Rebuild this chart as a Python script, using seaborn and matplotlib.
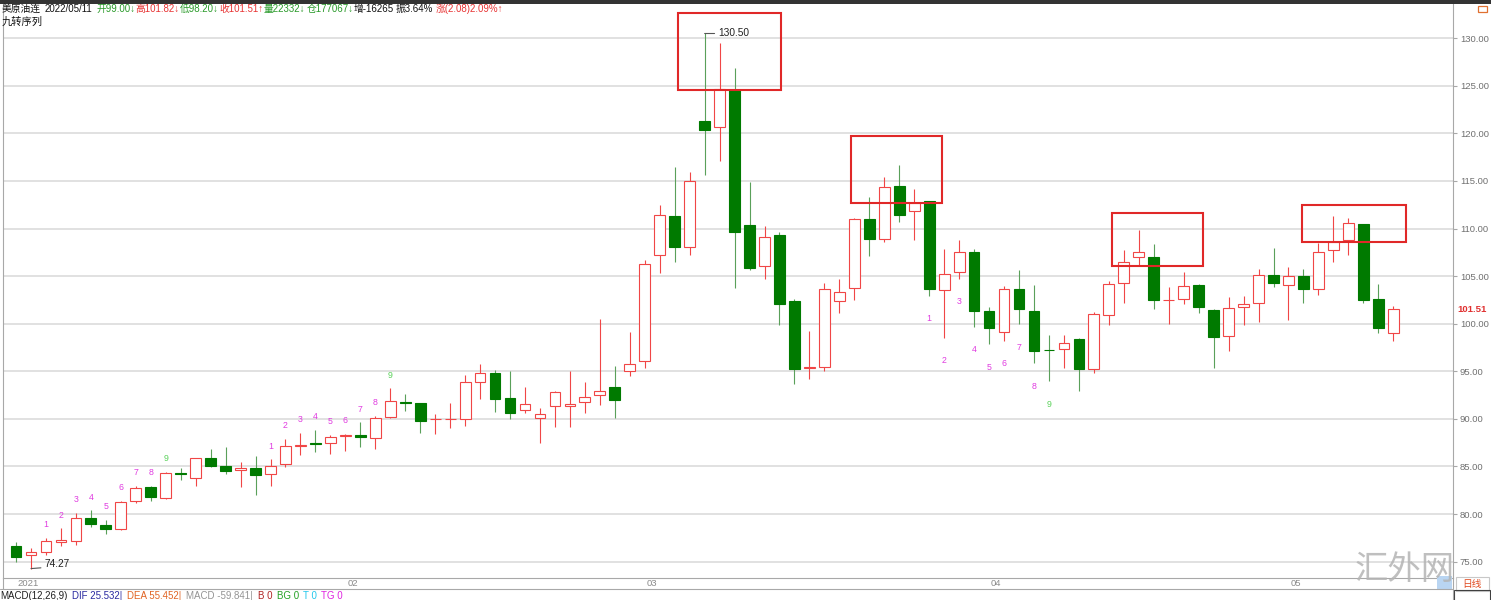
import matplotlib
matplotlib.use("Agg")
import matplotlib.pyplot as plt
import matplotlib.transforms as mtransforms
from matplotlib.patches import Rectangle
from matplotlib.lines import Line2D
import numpy as np
import seaborn as sns

# daily candles, 2021/12/31 .. 2022/05/11
opens = [76.6, 75.7, 76.05, 77.1, 77.2, 79.6, 78.85, 78.4, 81.4, 82.8,
         81.7, 84.25, 83.75, 85.85, 85.05, 84.6, 84.85, 84.2, 85.3, 87.2,
         87.5, 87.5, 88.25, 88.3, 88.0, 90.2, 91.8, 91.65, 89.95, 89.95,
         90.0, 93.9, 94.8, 92.2, 90.9, 90.05, 91.35, 91.35, 91.75, 92.5,
         93.3, 95.05, 96.1, 107.2, 111.35, 108.05, 121.3, 120.7, 124.6, 110.35,
         106.05, 109.35, 102.35, 95.35, 95.5, 102.35, 103.75, 111.0, 108.95, 114.5,
         111.85, 112.9, 103.55, 105.4, 107.5, 101.3, 99.1, 103.7, 101.3, 97.25,
         97.35, 98.4, 95.2, 100.95, 104.3, 107.05, 107.05, 102.45, 102.6, 104.05,
         101.45, 98.75, 101.8, 102.15, 105.15, 104.05, 105.0, 103.6, 107.7, 108.75,
         110.5, 102.65, 99.0]
highs = [77.1, 76.4, 77.5, 78.5, 80.1, 80.4, 79.4, 81.4, 83.0, 82.95,
         84.4, 84.8, 85.9, 86.8, 87.05, 85.45, 86.1, 85.75, 87.9, 88.5,
         88.85, 88.3, 88.45, 89.65, 90.35, 93.2, 92.65, 91.7, 90.55, 91.7,
         94.65, 95.75, 95.15, 95.05, 93.3, 91.1, 92.9, 95.0, 93.9, 100.5,
         95.6, 99.1, 106.75, 112.45, 116.5, 115.95, 130.5, 129.5, 126.85, 114.85,
         110.25, 109.65, 102.6, 99.25, 104.25, 104.7, 111.15, 113.35, 115.45, 116.65,
         114.15, 112.95, 107.9, 108.8, 107.85, 101.8, 104.0, 105.65, 104.05, 98.8,
         98.8, 98.45, 101.25, 104.5, 107.7, 109.8, 108.4, 103.9, 105.4, 104.15,
         101.55, 102.8, 102.95, 105.7, 107.95, 105.95, 105.8, 108.5, 111.35, 111.1,
         110.5, 104.15, 101.82]
lows = [75.0, 74.27, 75.7, 76.6, 76.8, 78.6, 77.9, 78.35, 81.2, 81.4,
        81.6, 83.6, 83.0, 84.95, 84.2, 82.8, 81.95, 83.0, 84.95, 86.2,
        86.5, 86.3, 86.6, 87.05, 86.8, 90.1, 90.8, 88.55, 88.45, 89.05,
        89.25, 92.1, 90.7, 89.95, 90.6, 87.5, 89.1, 89.1, 90.6, 91.5,
        90.1, 94.55, 95.3, 105.3, 106.5, 107.25, 115.65, 117.05, 103.75, 105.6,
        104.65, 99.85, 93.65, 94.2, 95.0, 101.1, 102.5, 107.15, 108.55, 110.7,
        108.8, 102.95, 98.55, 104.7, 99.7, 97.85, 98.2, 99.95, 95.85, 93.95,
        95.4, 92.95, 94.85, 99.85, 102.15, 106.15, 101.55, 99.95, 102.1, 101.1,
        95.3, 97.15, 99.85, 100.2, 103.9, 100.35, 102.15, 103.0, 106.5, 107.25,
        102.2, 99.0, 98.2]
closes = [75.5, 76.05, 77.15, 77.25, 79.6, 79.0, 78.45, 81.3, 82.75, 81.75,
          84.3, 84.2, 85.85, 85.0, 84.55, 84.85, 84.1, 85.05, 87.15, 87.3,
          87.4, 88.1, 88.3, 88.05, 90.1, 91.85, 91.7, 89.75, 90.0, 90.0,
          93.9, 94.8, 92.1, 90.65, 91.6, 90.5, 92.85, 91.55, 92.25, 92.95,
          91.95, 95.75, 106.3, 111.4, 108.1, 115.0, 120.4, 124.7, 109.6, 105.85,
          109.1, 102.1, 95.25, 95.4, 103.7, 103.3, 111.0, 108.9, 114.4, 111.4,
          112.65, 103.65, 105.2, 107.5, 101.3, 99.55, 103.7, 101.5, 97.1, 97.2,
          97.95, 95.2, 101.0, 104.15, 106.5, 107.55, 102.5, 102.5, 103.95, 101.8,
          98.65, 101.7, 102.05, 105.15, 104.25, 105.05, 103.6, 107.55, 108.6, 110.6,
          102.45, 99.5, 101.51]

# x axis: weekly ticks and month labels (candle index)
tick_idx = [0, 6, 11, 16, 22, 26, 31, 36, 41, 42, 46, 51, 56, 61, 65, 71, 75, 80, 85, 90]
month_idx = [0, 22, 42, 65, 85]
month_labels = ["2021", "02", "03", "04", "05"]

# nine-turn sequence marks
td_above_idx = [2, 3, 4, 5, 6, 7, 8, 9, 10, 17, 18, 19, 20, 21, 22, 23, 24, 25]
td_above_num = [1, 2, 3, 4, 5, 6, 7, 8, 9, 1, 2, 3, 4, 5, 6, 7, 8, 9]
td_below_idx = [61, 62, 63, 64, 65, 66, 67, 68, 69]
td_below_num = [1, 2, 3, 4, 5, 6, 7, 8, 9]

# highlighted tops: (x0, x1, y0, y1) in candle index / price
boxes = [(44.2, 51.1, 124.55, 132.7),
         (55.8, 61.85, 112.65, 119.7),
         (73.2, 79.3, 106.05, 111.65),
         (85.9, 92.85, 108.55, 112.45)]

sns.set_style("white")
plt.rcParams['font.family'] = ['Liberation Sans', 'Noto Sans CJK SC', 'DejaVu Sans']

RED = "#f04646"
GREEN = "#007a00"
GREEN_WICK = "#5aa05a"
GRID = "#d9d9d9"
AXC = "#a8a8a8"

fig = plt.figure(figsize=(14.91, 6.0), dpi=100)
fig.patch.set_facecolor("white")
ax = fig.add_axes([3 / 1491, 22 / 600, 1450 / 1491, 574 / 600])

x = np.arange(len(opens))
o = np.array(opens); h = np.array(highs); l = np.array(lows); c = np.array(closes)
up = c >= o
bot = np.minimum(o, c)
hgt = np.maximum(np.abs(c - o), 0.07)

ax.vlines(x[up], l[up], h[up], color=RED, lw=0.8, zorder=2)
ax.vlines(x[~up], l[~up], h[~up], color=GREEN_WICK, lw=0.8, zorder=2)
ax.bar(x[up], hgt[up], bottom=bot[up], width=0.72, facecolor="white",
       edgecolor=RED, lw=0.8, zorder=3)
ax.bar(x[~up], hgt[~up], bottom=bot[~up], width=0.72, facecolor=GREEN,
       edgecolor=GREEN, lw=0.8, zorder=3)

# nine-turn numbers
for i, n in zip(td_above_idx, td_above_num):
    ax.annotate(str(n), (i, highs[i]), xytext=(0, 9.5), textcoords="offset points",
                ha="center", va="center", fontsize=6.3,
                color="#5ad25a" if n == 9 else "#e03ce0", zorder=4)
for i, n in zip(td_below_idx, td_below_num):
    ax.annotate(str(n), (i, lows[i]), xytext=(0, -16.5), textcoords="offset points",
                ha="center", va="center", fontsize=6.3,
                color="#5ad25a" if n == 9 else "#e03ce0", zorder=4)

# max / min labels
imax = int(np.argmax(h)); imin = int(np.argmin(l))
ax.annotate(f"{h[imax]:.2f}", (imax, h[imax]), xytext=(9.5, 0), textcoords="offset points",
            ha="left", va="center", fontsize=7.3, color="#222222",
            arrowprops=dict(arrowstyle="-", color="#555555", lw=0.8,
                            shrinkA=0, shrinkB=0, relpos=(0, 0.5)))
ax.annotate(f"{l[imin]:.2f}", (imin, l[imin]), xytext=(9.5, 0), textcoords="offset points",
            ha="left", va="bottom", fontsize=7.3, color="#222222",
            arrowprops=dict(arrowstyle="-", color="#555555", lw=0.8,
                            shrinkA=0, shrinkB=0, relpos=(0, 0.1)))

for x0, x1, y0, y1 in boxes:
    ax.add_patch(Rectangle((x0, y0), x1 - x0, y1 - y0, fill=False,
                           edgecolor="#e02828", lw=1.5, zorder=5))

ax.set_xlim(-0.87, 95.99)
ax.set_ylim(73.28, 133.6)
yt = np.arange(75, 131, 5)
ax.set_yticks(yt)
ax.set_yticklabels([f"{v:.2f}" for v in yt])
ax.yaxis.tick_right()
ax.tick_params(axis="y", direction="out", length=3, width=0.8, color=AXC,
               labelsize=6.8, labelcolor="#707070", pad=2)
ax.grid(axis="y", color=GRID, lw=1.1)
ax.grid(axis="x", visible=False)

ax.set_xticks(tick_idx)
ax.set_xticklabels([""] * len(tick_idx))
ax.tick_params(axis="x", direction="out", length=5, width=0.8, color=AXC, pad=0)
xtrans = mtransforms.blended_transform_factory(ax.transData, ax.transAxes)
for i, lab in zip(month_idx, month_labels):
    ax.text(i + 0.12, -0.0095, lab, transform=xtrans, ha="left", va="center",
            fontsize=6.8, color="#8a8a8a")

for side in ["left", "right", "bottom"]:
    ax.spines[side].set_color(AXC)
    ax.spines[side].set_linewidth(0.8)
ax.spines["top"].set_visible(False)

ytrans = mtransforms.blended_transform_factory(ax.transAxes, ax.transData)
ax.text(1.003, closes[-1], f"{closes[-1]:.2f}", transform=ytrans, ha="left", va="center",
        fontsize=6.8, color="#e03030", fontweight="bold")

# frame pieces around the chart
fig.add_artist(Rectangle((0, 1 - 4 / 600), 1, 4 / 600, transform=fig.transFigure,
                         facecolor="#333333", edgecolor="none"))
fig.add_artist(Line2D([0, 1453 / 1491], [11 / 600, 11 / 600], transform=fig.transFigure,
                      color=AXC, lw=0.8))
fig.add_artist(Line2D([1453 / 1491, 1453 / 1491], [0, 22 / 600], transform=fig.transFigure,
                      color=AXC, lw=0.8))
fig.add_artist(Line2D([3 / 1491, 3 / 1491], [11 / 600, 22 / 600], transform=fig.transFigure,
                      color=AXC, lw=0.8))
fig.add_artist(Rectangle((1478 / 1491, 1 - 12 / 600), 9 / 1491, 6 / 600,
                         transform=fig.transFigure, fill=False, edgecolor="#e07030", lw=0.9))
fig.add_artist(Rectangle((1437 / 1491, 10 / 600), 15 / 1491, 14 / 600,
                         transform=fig.transFigure, facecolor="#b9d5f2", edgecolor="none"))
fig.add_artist(Rectangle((1456 / 1491, 9 / 600), 33 / 1491, 14 / 600,
                         transform=fig.transFigure, fill=False, edgecolor="#c8c8c8", lw=0.8))
fig.add_artist(Rectangle((1454 / 1491, -0.01), 36 / 1491, 10 / 600 + 0.01,
                         transform=fig.transFigure, fill=False, edgecolor="#404040", lw=0.8))
fig.text(1472 / 1491, 1 - 584 / 600, "日线", ha="center", va="center", fontsize=7,
         color="#e04a20")
fig.text(1405 / 1491, 1 - 569 / 600, "汇外网", ha="center", va="center", fontsize=24,
         color="#b4b4b4", alpha=0.85, family=["Noto Sans CJK SC", "DejaVu Sans"])


def text_row(parts, x0, y, size):
    # lay text pieces one after another, each with its own gap (points)
    prev = fig.text(x0 / 1491, 1 - y / 600, parts[0][0], ha="left", va="center",
                    fontsize=size, color=parts[0][2])
    for txt, gap, col in parts[1:]:
        prev = ax.annotate(txt, xy=(1, 0.5), xycoords=prev, xytext=(gap, 0),
                           textcoords="offset points", ha="left", va="center",
                           fontsize=size, color=col, annotation_clip=False)


# header quote line: (text, gap before, colour)
header = [("美原油连", 0, "#111111"), ("2022/05/11", 2.5, "#111111"),
          ("开99.00↓", 3, "#2a9a2a"), ("高101.82↓", 0.2, "#e83434"),
          ("低98.20↓", 0.2, "#2a9a2a"), ("收101.51↑", 0.2, "#e83434"),
          ("量22332↓", 0.2, "#2a9a2a"), ("仓177067↓", 1.0, "#2a9a2a"),
          ("增-16265", 0.2, "#111111"), ("振3.64%", 1.0, "#111111"),
          ("涨(2.08)2.09%↑", 2.0, "#e83434")]
text_row(header, 2, 9, 7.0)
fig.text(2 / 1491, 1 - 22 / 600, "九转序列", ha="left", va="center", fontsize=7.4, color="#111111")

macd = [("MACD(12,26,9)", 0, "#202020"), ("DIF 25.532|", 3.5, "#2a2aa0"),
        ("DEA 55.452|", 3.5, "#e06424"), ("MACD -59.841|", 3.5, "#949494"),
        ("B 0", 3.5, "#b02424"), ("BG 0", 3, "#24a024"),
        ("T 0", 3, "#24c8ec"), ("TG 0", 3, "#e024e0")]
text_row(macd, 0, 596, 7.0)

fig.savefig("out.png", dpi=100, facecolor="white")
